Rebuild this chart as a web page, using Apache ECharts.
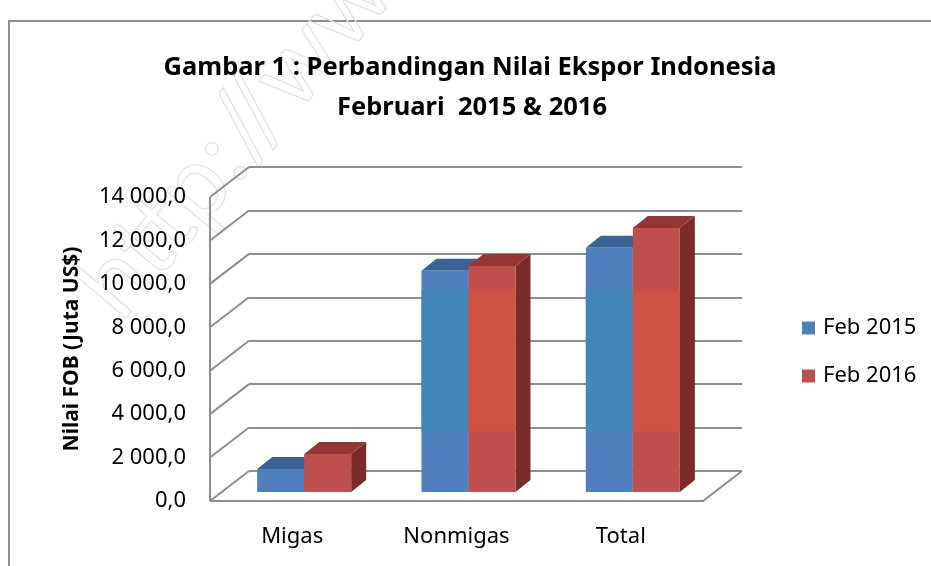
<!DOCTYPE html>
<html>
<head>
<meta charset="utf-8">
<script src="https://cdn.jsdelivr.net/npm/echarts@6/dist/echarts.min.js"></script>
<style>
  html, body { margin: 0; padding: 0; background: #fff; }
  #chart { width: 931px; height: 566px; }
</style>
</head>
<body>
<div id="chart"></div>
<script>
const categories = ["Migas", "Nonmigas", "Total"];
const seriesNames = ["Feb 2015", "Feb 2016"];
const feb2015 = [1060, 10190, 11250];
const feb2016 = [1750, 10410, 12160];
const yTicks = [0, 2000, 4000, 6000, 8000, 10000, 12000, 14000];

const FONT = "Noto Sans";
// front plane of the 3d box, labels sit here
const front = { left: 210, right: 228, top: 197, bottom: 65 };
const DEPTH = [39, -30];      // front plane -> back wall
const BAR_PLANE = [12, -9];   // front plane -> front face of bars
const BAR_DEPTH = [15, -12];
const BAR_W = 47;
const SHADE_BAND = [2800, 9300]; // lighter band in the original's bar fill
const LINE = "#8e8e8e";

const colors = {
  front: ["#4f80bd", "#c0504d"],
  band: ["#4586b9", "#cb5445"],
  top: ["#3b6295", "#943634"],
  side: ["#30507a", "#7a2c2a"]
};

const shift = (g, d) => ({
  left: g.left + d[0], right: g.right - d[0],
  top: g.top + d[1], bottom: g.bottom - d[1]
});

function fmt(v) {
  return String(Math.round(v)).replace(/\B(?=(\d{3})+(?!\d))/g, " ") + ",0";
}

const chart = echarts.init(document.getElementById("chart"));

function barItem(k) {
  return function (params, api) {
    const i = api.value(0);
    const v = api.value(1);
    const top = api.coord([i, v]);
    const base = api.coord([i, 0]);
    const x0 = top[0] - BAR_W + k * BAR_W;
    const x1 = x0 + BAR_W;
    const yt = top[1], yb = base[1];
    const dx = BAR_DEPTH[0], dy = BAR_DEPTH[1];
    const children = [
      { type: "polygon", shape: { points: [[x1, yt], [x1 + dx, yt + dy], [x1 + dx, yb + dy], [x1, yb]] },
        style: { fill: colors.side[k] } },
      { type: "polygon", shape: { points: [[x0, yt], [x1, yt], [x1 + dx, yt + dy], [x0 + dx, yt + dy]] },
        style: { fill: colors.top[k] } },
      { type: "rect", shape: { x: x0, y: yt, width: BAR_W, height: yb - yt },
        style: { fill: colors.front[k] } }
    ];
    const bTop = Math.max(yt, api.coord([i, SHADE_BAND[1]])[1]);
    const bBot = Math.min(yb, api.coord([i, SHADE_BAND[0]])[1]);
    if (bBot > bTop) {
      children.push({ type: "rect", shape: { x: x0, y: bTop, width: BAR_W, height: bBot - bTop },
        style: { fill: colors.band[k] } });
    }
    return { type: "group", children: children };
  };
}

const option = {
  animation: false,
  backgroundColor: "#fff",
  grid: [
    Object.assign({}, front),
    shift(front, BAR_PLANE),
    shift(front, DEPTH)
  ],
  xAxis: [
    {
      gridIndex: 0, type: "category", data: categories,
      axisLine: { show: false }, axisTick: { show: false },
      axisLabel: { color: "#000", fontFamily: FONT, fontSize: 22, margin: 25 }
    },
    { gridIndex: 1, type: "category", data: categories, show: false },
    { gridIndex: 2, type: "category", data: categories, show: false }
  ],
  yAxis: [
    {
      gridIndex: 0, type: "value", min: 0, max: 14000, interval: 2000,
      axisLine: { show: false }, axisTick: { show: false }, splitLine: { show: false },
      axisLabel: { color: "#000", fontFamily: FONT, fontSize: 22, margin: 24, formatter: fmt },
      name: "Nilai FOB (Juta US$)", nameLocation: "middle", nameRotate: 90, nameGap: 127,
      nameTextStyle: { color: "#000", fontFamily: FONT, fontSize: 21, fontWeight: "bold" }
    },
    { gridIndex: 1, type: "value", min: 0, max: 14000, interval: 2000, show: false },
    {
      gridIndex: 2, type: "value", min: 0, max: 14000, interval: 2000,
      axisLine: { show: false }, axisTick: { show: false }, axisLabel: { show: false },
      splitLine: { show: true, lineStyle: { color: LINE, width: 2 } }
    }
  ],
  legend: {
    orient: "vertical", left: 797, top: 311,
    icon: "rect", itemWidth: 13, itemHeight: 13, itemGap: 24,
    textStyle: { color: "#000", fontFamily: FONT, fontSize: 22, lineHeight: 24, padding: [0, 0, 0, 3] },
    data: seriesNames.map((n, k) => ({ name: n, itemStyle: { color: colors.front[k] } }))
  },
  graphic: [
    { type: "rect", silent: true, z: -1, shape: { x: 9, y: 21, width: 940, height: 560 },
      style: { fill: "none", stroke: LINE, lineWidth: 2 } },
    { type: "text", silent: true, z: -1, x: 135, y: 335, rotation: Math.PI / 3.6,
      style: { text: "http://www", font: "100px Lato", fill: "none", stroke: "#e2e2e2", lineWidth: 1.2,
               textVerticalAlign: "bottom" } },
    { type: "text", x: 470, y: 68,
      style: { text: "Gambar 1 : Perbandingan Nilai Ekspor Indonesia", font: "bold 25.5px 'Noto Sans'",
               fill: "#000", textAlign: "center", textVerticalAlign: "middle" } },
    { type: "text", x: 472, y: 108,
      style: { text: "Februari  2015 & 2016", font: "bold 25.5px 'Noto Sans'",
               fill: "#000", textAlign: "center", textVerticalAlign: "middle" } }
  ],
  series: [
    {
      // side wall diagonals
      type: "custom", xAxisIndex: 0, yAxisIndex: 0, z: 1, silent: true,
      data: yTicks.map(v => [0, v]),
      renderItem: function (params, api) {
        const p = api.coord([0, api.value(1)]);
        const left = p[0] - api.size([1, 0])[0] / 2;
        return { type: "line", shape: { x1: left, y1: p[1], x2: left + DEPTH[0], y2: p[1] + DEPTH[1] },
                 style: { stroke: LINE, lineWidth: 2 } };
      }
    },
    {
      // front edge of side wall and floor
      type: "custom", xAxisIndex: 0, yAxisIndex: 0, z: 1, silent: true,
      data: [[0, 0]],
      renderItem: function (params, api) {
        const band = api.size([1, 0])[0];
        const p0 = api.coord([0, 0]);
        const pTop = api.coord([0, yTicks[yTicks.length - 1]]);
        const left = p0[0] - band / 2;
        const right = left + band * categories.length;
        const y0 = p0[1];
        const st = { stroke: LINE, lineWidth: 2, fill: "none" };
        return {
          type: "group",
          children: [
            { type: "line", shape: { x1: left, y1: pTop[1], x2: left, y2: y0 }, style: st },
            { type: "polyline", shape: { points: [[left, y0], [right, y0], [right + DEPTH[0], y0 + DEPTH[1]]] }, style: st }
          ]
        };
      }
    },
    {
      name: seriesNames[0], type: "custom", xAxisIndex: 1, yAxisIndex: 1, z: 3,
      itemStyle: { color: colors.front[0] },
      data: feb2015.map((v, i) => [i, v]),
      renderItem: barItem(0)
    },
    {
      name: seriesNames[1], type: "custom", xAxisIndex: 1, yAxisIndex: 1, z: 3,
      itemStyle: { color: colors.front[1] },
      data: feb2016.map((v, i) => [i, v]),
      renderItem: barItem(1)
    }
  ]
};

chart.setOption(option);
</script>
</body>
</html>
